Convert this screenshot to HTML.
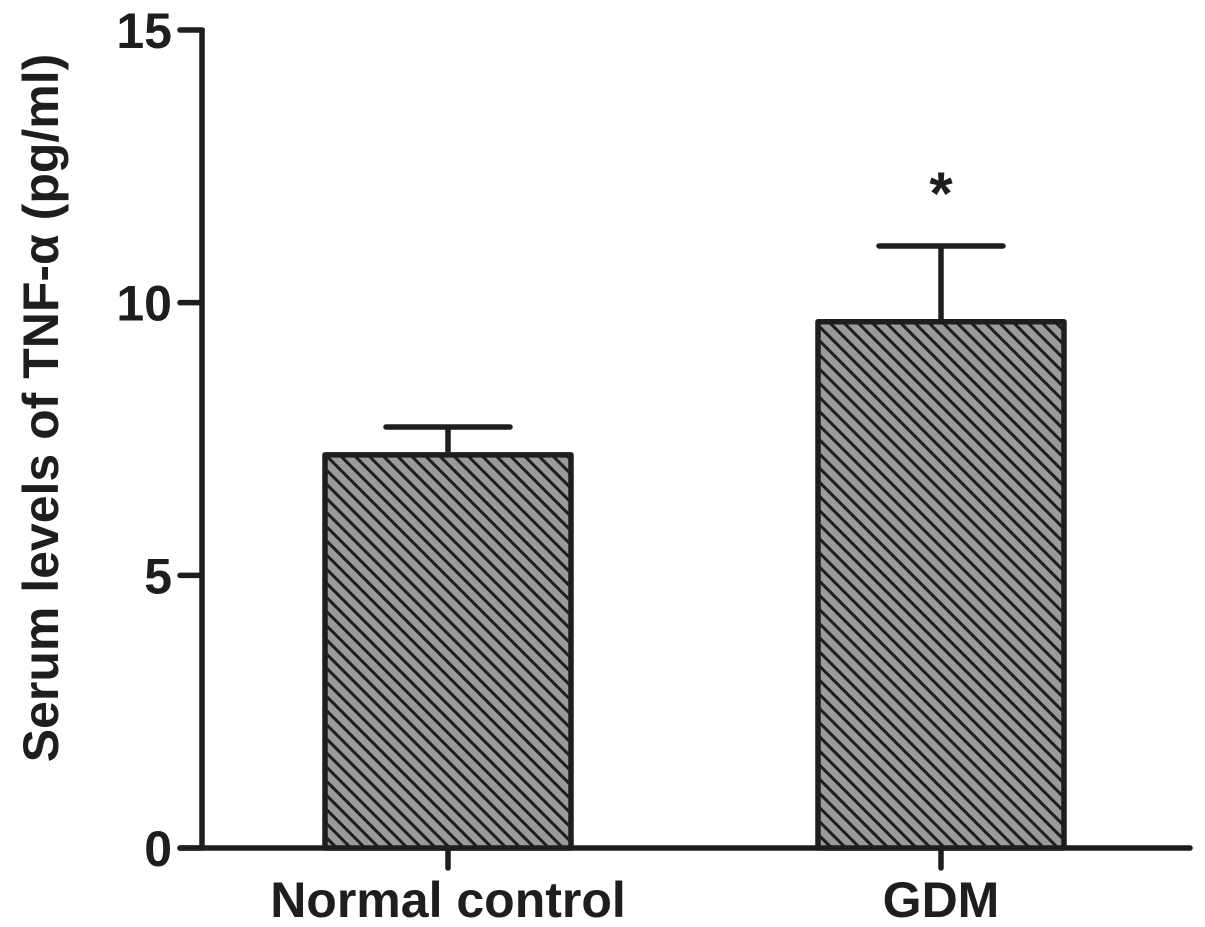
<!DOCTYPE html>
<html><head><meta charset="utf-8"><style>
html,body{margin:0;padding:0;background:#fff;}
svg{display:block;font-family:"Liberation Sans",Arial,sans-serif;}
</style></head><body>
<svg id="chart" width="1205" height="927" viewBox="0 0 1205 927">
<defs>
<pattern id="hatch" patternUnits="userSpaceOnUse" width="10" height="10" patternTransform="rotate(45)">
<rect width="10" height="10" fill="#9a9a9a"/>
<rect x="0" y="0" width="10" height="3" fill="#1e1e1e"/>
</pattern>
</defs>
<g id="plot"></g>
</svg>
<script>
const categories = ["Normal control", "GDM"];
const means = [7.21, 9.65];
const errors = [0.51, 1.39];
const yTicks = [0, 5, 10, 15];
const tickLabels = ["0", "5", "10", "15"];
const sig = ["", "*"];

const NS = "http://www.w3.org/2000/svg";
const g = document.getElementById("plot");
const x0 = 202, yBase = 848, yTop = 30, vMax = 15;
const y = v => yBase - (v / vMax) * (yBase - yTop);
const centers = [448, 941];
const bw = 246;
const xc = i => centers[i];
function mk(tag, attrs) { const e = document.createElementNS(NS, tag); for (const k in attrs) e.setAttribute(k, attrs[k]); g.appendChild(e); return e; }

let ya = mk("line", {x1: x0, y1: yTop - 2, x2: x0, y2: yBase + 2, stroke: "#1e1e1e", "stroke-width": 5.5});


let xa = mk("line", {x1: 180, y1: yBase, x2: 1190, y2: yBase, stroke: "#1e1e1e", "stroke-width": 5.5, "stroke-linecap": "round"});



yTicks.forEach((v, i) => {
  let t = mk("line", {x1: 180, y1: y(v), x2: x0, y2: y(v), stroke: "#1e1e1e", "stroke-width": 5.5, "stroke-linecap": "round"});
  
  
  let l = mk("text", {x: 172, y: y(v) + 18, "text-anchor": "end", "font-size": 50, "font-weight": "bold", fill: "#1e1e1e"});
  l.textContent = tickLabels[i];
  
  
});

categories.forEach((c, i) => {
  const cx = xc(i);
  let bar = mk("rect", {x: cx - bw / 2, y: y(means[i]), width: bw, height: yBase - y(means[i]), fill: "url(#hatch)", stroke: "#1e1e1e", "stroke-width": 5.5, "stroke-linejoin": "round"});
  
  
  let ev = mk("line", {x1: cx, y1: y(means[i]), x2: cx, y2: y(means[i] + errors[i]), stroke: "#1e1e1e", "stroke-width": 5.5});
  
  
  let ec = mk("line", {x1: cx - 62, y1: y(means[i] + errors[i]), x2: cx + 62, y2: y(means[i] + errors[i]), stroke: "#1e1e1e", "stroke-width": 5.5, "stroke-linecap": "round"});
  
  
  let tk = mk("line", {x1: cx, y1: yBase, x2: cx, y2: 868, stroke: "#1e1e1e", "stroke-width": 5.5, "stroke-linecap": "round"});
  
  
  let lb = mk("text", {x: cx, y: 917, "text-anchor": "middle", "font-size": 50, "font-weight": "bold", fill: "#1e1e1e"});
  lb.textContent = c;
  
  
  if (sig[i]) {
    let s = mk("text", {x: cx, y: y(means[i] + errors[i]) - 32, "text-anchor": "middle", "font-size": 60, "font-weight": "bold", fill: "#1e1e1e"});
    s.textContent = sig[i];
    
    
  }
});

let yt = mk("text", {x: 0, y: 0, transform: "translate(58,408) rotate(-90)", "text-anchor": "middle", "font-size": 50, "font-weight": "bold", fill: "#1e1e1e"});
yt.textContent = "Serum levels of TNF-\u03b1 (pg/ml)";


</script>
</body></html>
